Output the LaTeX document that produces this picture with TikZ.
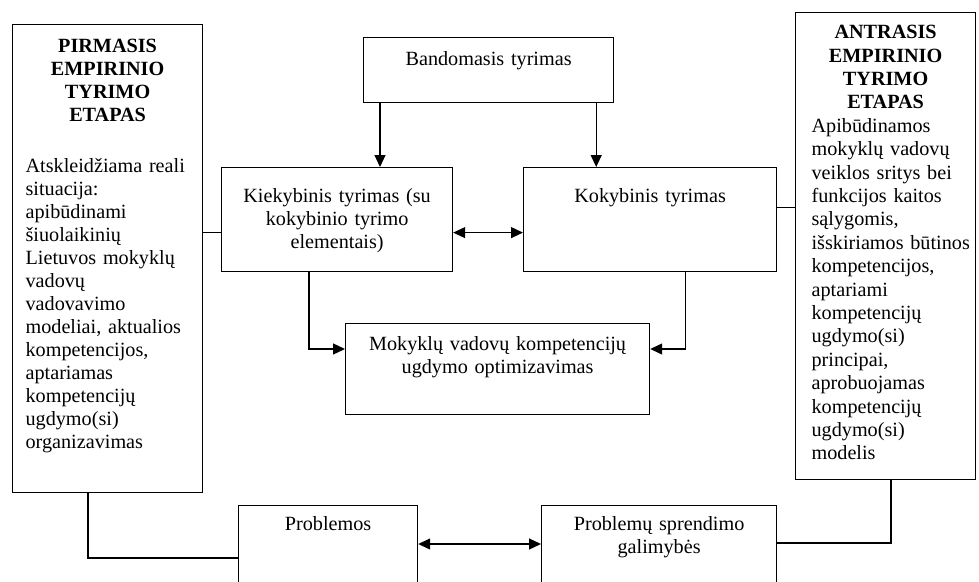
\documentclass[tikz,border=0pt]{standalone}
\usepackage{fontspec}
\setmainfont{Liberation Serif}
\usetikzlibrary{arrows.meta}
\tikzset{text box/.style={draw,line width=1.2pt,anchor=north west,inner xsep=0pt,inner ysep=0pt,font=\fontsize{20.2}{23}\selectfont},
  line/.style={line width=1.2pt},
  to line/.style={line,-{Triangle[length=12pt,width=11pt]}},
  both line/.style={line,{Triangle[length=12pt,width=11pt]}-{Triangle[length=12pt,width=11pt]}},}

\begin{document}
\begin{tikzpicture}[x=1pt,y=-1pt]
  \clip (0,0) rectangle (979,581);
  \useasboundingbox (0,0) rectangle (979,581);
 %% Nodes
  \node[text box,text width=250pt,align=center,text height=28pt,text depth=37pt] (band) at (363,37) {Bandomasis tyrimas};
  \node[text box,text width=231pt,align=center,text height=35pt,text depth=69pt] (kiek) at (221,167) {Kiekybinis tyrimas (su\\ kokybinio tyrimo\\ elementais)};
  \node[text box,text width=253pt,align=center,text height=35pt,text depth=69pt] (koky) at (523,167) {Kokybinis tyrimas};
  \node[text box,text width=304pt,align=center,text height=27pt,text depth=64pt] (opt) at (345,323) {Mokyklų vadovų kompetencijų\\ ugdymo optimizavimas};
  \node[text box,text width=179pt,align=center,text height=25pt,text depth=70pt] (prob) at (238,505) {Problemos};
  \node[text box,text width=235pt,align=center,text height=25pt,text depth=70pt] (spr) at (541,505) {Problemų sprendimo\\ galimybės};
  \node[text box,text width=190pt,text height=28pt,text depth=440pt] (first) at (12,24)
    {{\centering\bfseries PIRMASIS\\ EMPIRINIO\\ TYRIMO\\ ETAPAS\par}\vspace{28pt}\leftskip=13pt
     Atskleidžiama reali\\ situacija:\\ apibūdinami\\ šiuolaikinių\\ Lietuvos mokyklų\\ vadovų\\ vadovavimo\\
     modeliai, aktualios\\ kompetencijos,\\ aptariamas\\ kompetencijų\\ ugdymo(si)\\ organizavimas\par};
  \node[text box,text width=180pt,text height=26pt,text depth=441pt,font=\fontsize{20.2}{23.4}\selectfont] (second) at (795,12)
    {{\centering\bfseries ANTRASIS\\ EMPIRINIO\\ TYRIMO\\ ETAPAS\par}\leftskip=16pt
     Apibūdinamos\\ mokyklų vadovų\\ veiklos sritys bei\\ funkcijos kaitos\\ sąlygomis,\\ išskiriamos būtinos\\
     kompetencijos,\\ aptariami\\ kompetencijų\\ ugdymo(si)\\ principai,\\ aprobuojamas\\ kompetencijų\\ ugdymo(si)\\ modelis\par};
  %% Paths
  \draw[to line] ([xshift=17pt]band.south west) -- ([xshift=17pt]band.south west |- kiek.north);
  \draw[to line] ([xshift=-18pt]band.south east) -- ([xshift=-18pt]band.south east |- koky.north);
  \draw[both line] ([yshift=-13pt]kiek.east) -- ([yshift=-13pt]kiek.east -| koky.west);
  \draw[line] ([yshift=-13pt]kiek.west) -- ([yshift=-13pt]kiek.west -| first.east);
  \draw[line] ([yshift=12pt]koky.east) -- ([yshift=12pt]koky.east -| second.west);
  \draw[to line] ([xshift=88pt]kiek.south west) |- ([yshift=-26pt]opt.north west);
  \draw[to line] ([xshift=-92pt]koky.south east) |- ([yshift=-26pt]opt.north east);
  \draw[line] ([xshift=76pt]first.south west) |- ([yshift=-53pt]prob.north west);
  \draw[both line] ([yshift=-39pt]prob.north east) -- ([yshift=-39pt]spr.north west);
  \draw[line] ([xshift=96pt]second.south west) |- ([yshift=-38pt]spr.north east);
\end{tikzpicture}
\end{document}
